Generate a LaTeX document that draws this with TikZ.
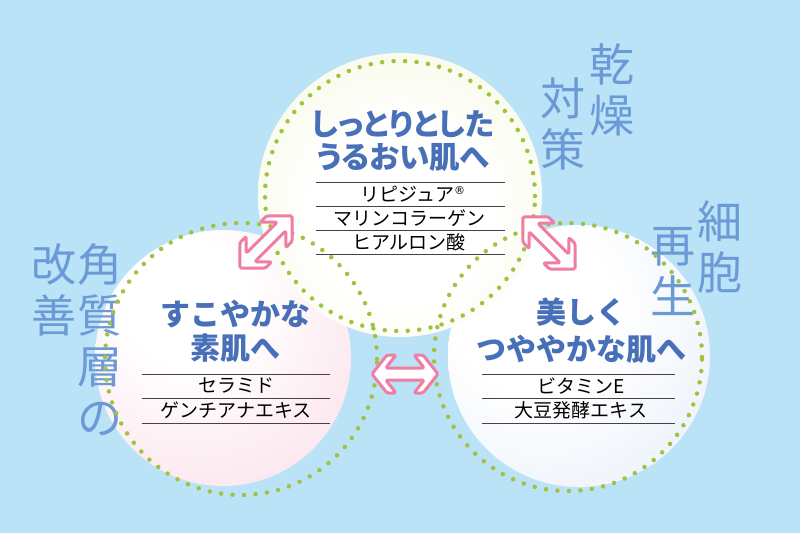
\documentclass[tikz,border=0pt]{standalone}
\usepackage{fontspec}
\setmainfont{Noto Sans CJK JP}
\newfontfamily\titlefont[RawFeature=+palt]{Noto Sans CJK JP}
\newfontfamily\symfont{DejaVu Sans}
\usetikzlibrary{shapes.geometric, arrows}
\definecolor{skyblue}{RGB}{186,227,247}
\definecolor{titleblue}{RGB}{72,112,184}
\definecolor{vblue}{RGB}{108,154,214}
\definecolor{dotgreen}{RGB}{164,192,64}
\definecolor{arrowpink}{RGB}{239,126,162}
\definecolor{rulegray}{RGB}{70,66,66}
\definecolor{topcream}{RGB}{238,244,204}
\definecolor{leftpink}{RGB}{250,210,224}
\definecolor{rightblue}{RGB}{220,231,247}
\pgfdeclareradialshading{creamdisk}{\pgfpoint{0bp}{-4bp}}{color(0bp)=(white); color(16bp)=(white); color(48bp)=(topcream); color(100bp)=(topcream)}
\pgfdeclareradialshading{pinkdisk}{\pgfpoint{-8bp}{12bp}}{color(0bp)=(white); color(12bp)=(white); color(55bp)=(leftpink); color(100bp)=(leftpink)}
\pgfdeclareradialshading{bluedisk}{\pgfpoint{-10bp}{10bp}}{color(0bp)=(white); color(15bp)=(white); color(58bp)=(rightblue); color(100bp)=(rightblue)}
\tikzstyle{title} = [font=\fontsize{30}{34}\selectfont\bfseries, 
text=titleblue, 
align=center, 
inner sep=0pt]
\tikzstyle{item} = [font=\fontsize{19}{24}\selectfont, 
text=black, 
inner sep=0pt]
\tikzstyle{rule} = [draw=rulegray, line width=1pt]
\tikzstyle{dots} = [draw=dotgreen, line width=4.5pt, line cap=round, dash pattern=on 0pt off 11.5pt]
\tikzstyle{vtext} = [font=\fontsize{45}{51}\selectfont, 
text=vblue, 
align=center, 
inner sep=0pt, 
anchor=north]
\tikzstyle{twoway} = [draw=arrowpink, line width=3pt, fill=white, rounded corners=1.5pt, line join=round]
% center, angle, half length, head depth, head half width, cap
\newcommand{\twowayarrow}[6]{\draw[twoway, shift={#1}, rotate=#2]
 (-#3,0) -- ({-#3+#4},-#5) -- ({-#3+#4+#6},-#5) -- ({-#3+#6+#4*6/#5},-6)
 -- ({#3-#6-#4*6/#5},-6) -- ({#3-#4-#6},-#5) -- ({#3-#4},-#5) -- (#3,0)
 -- ({#3-#4},#5) -- ({#3-#4-#6},#5) -- ({#3-#6-#4*6/#5},6)
 -- ({-#3+#6+#4*6/#5},6) -- ({-#3+#4+#6},#5) -- ({-#3+#4},#5) -- cycle;}

\begin{document}
\begin{tikzpicture}[x=1pt, y=-1pt]

\fill[skyblue] (0,0) rectangle (800,533);
\useasboundingbox (0,0) rectangle (800,533);

\shade[shading=pinkdisk] (223,358) circle (128pt);
\shade[shading=bluedisk] (579,356) circle (131pt);
\shade[shading=creamdisk] (400,195) circle (142pt);

\node (dry) [vtext] at (612,43) {乾\\燥};
\node (care) [vtext] at (563,77) {対\\策};
\node (cell) [vtext] at (720,200) {細\\胞};
\node (renew) [vtext] at (673,227) {再\\生};
\node (horny) [vtext] at (100,243) {角\\質\\層\\の};
\node (improve) [vtext] at (54,243) {改\\善};

\draw[dots] (400,196) circle (135pt);
\draw[dots] (241,359) circle (136pt);
\draw[dots] (568,357) circle (134pt);

\node (moist) [title, font=\titlefont\fontsize{30.5}{33}\selectfont\bfseries] at (403,141) {しっとりとした\\うるおい肌へ};
\node (lipidure) [item] at (413,194) {リピジュア\raisebox{0.7ex}{\symfont\fontsize{11}{11}\selectfont ®}};
\node (collagen) [item, below of=lipidure, xshift=-4pt, node distance=24pt] {マリンコラーゲン};
\node (hyaluron) [item, below of=collagen, node distance=24pt] {ヒアルロン酸};
\draw [rule] (316,182) -- (505,182);
\draw [rule] (316,206) -- (505,206);
\draw [rule] (316,230) -- (505,230);
\draw [rule] (316,254) -- (505,254);

\node (healthy) [title] at (235,331) {すこやかな\\素肌へ};
\node (ceramide) [item] at (236,386) {セラミド};
\node (gentian) [item, below of=ceramide, node distance=24.5pt] {ゲンチアナエキス};
\draw [rule] (142,374) -- (330,374);
\draw [rule] (142,398) -- (330,398);
\draw [rule] (142,423) -- (330,423);

\node (glossy) [title, font=\fontsize{30}{37}\selectfont\bfseries] at (581,331) {美しく\\つややかな肌へ};
\node (vitamin) [item] at (581,386) {ビタミンE};
\node (soy) [item, below of=vitamin, node distance=24.5pt] {大豆発酵エキス};
\draw [rule] (482,374) -- (675,374);
\draw [rule] (482,398) -- (675,398);
\draw [rule] (482,423) -- (675,423);

\twowayarrow{(266,242)}{45}{37}{18}{18}{9}
\twowayarrow{(549,243)}{-45}{37}{18}{18}{9}
\twowayarrow{(405,374)}{0}{33}{15}{19}{9}

\end{tikzpicture}
\end{document}
